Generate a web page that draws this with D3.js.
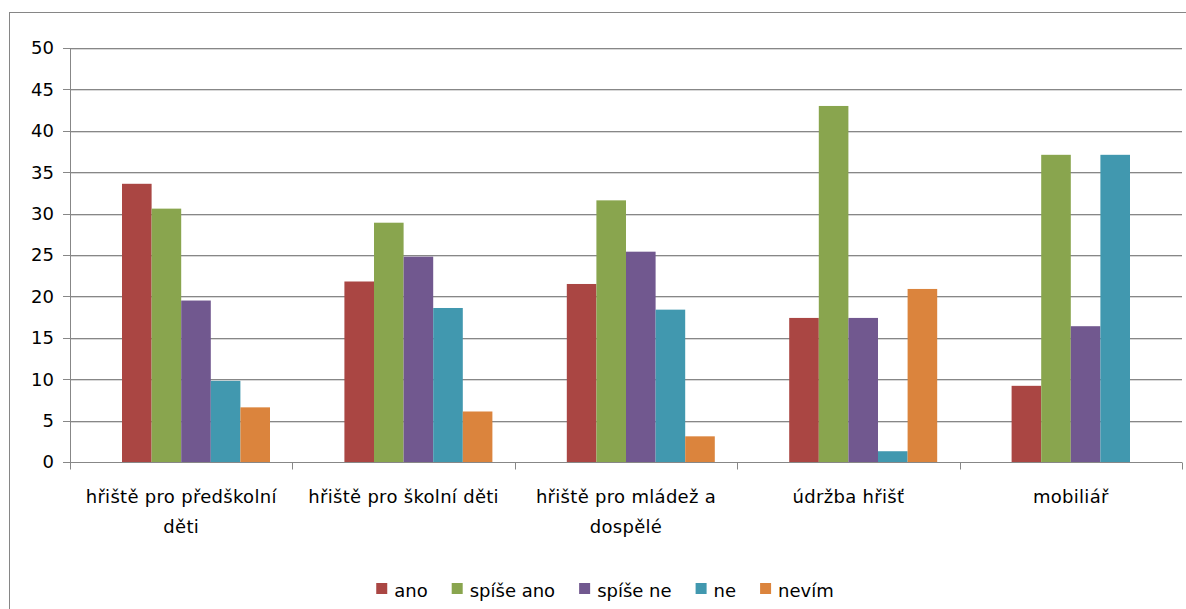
<!DOCTYPE html>
<html>
<head>
<meta charset="utf-8">
<script src="https://cdn.jsdelivr.net/npm/d3@7/dist/d3.min.js"></script>
<style>
  html, body { margin: 0; padding: 0; background: #fff; }
  svg text { font-family: "DejaVu Sans", sans-serif; font-size: 18px; fill: #000; }
  svg text.cat { letter-spacing: 0.3px; }
</style>
</head>
<body>
<div id="chart"></div>
<script>
var width = 1186;
var height = 609;

// data (percent)
var categories = ["hřiště pro předškolní děti", "hřiště pro školní děti", "hřiště pro mládež a dospělé", "údržba hřišť", "mobiliář"];
var seriesNames = ["ano", "spíše ano", "spíše ne", "ne", "nevím"];
var ano      = [33.6, 21.8, 21.5, 17.4, 9.2];
var spiseAno = [30.6, 28.9, 31.6, 43.0, 37.1];
var spiseNe  = [19.5, 24.8, 25.4, 17.4, 16.4];
var ne       = [9.8, 18.6, 18.4, 1.3, 37.1];
var nevim    = [6.6, 6.1, 3.1, 20.9, 0];
var yTicks   = [0, 5, 10, 15, 20, 25, 30, 35, 40, 45, 50];
var colors   = ["#AA4643", "#89A54E", "#71588F", "#4198AF", "#DB843D"];

var seriesValues = [ano, spiseAno, spiseNe, ne, nevim];

var plot = { left: 70, right: 1182, top: 48, bottom: 462 };

var svg = d3.select("#chart")
    .append("svg")
    .attr("width", width)
    .attr("height", height);

// outer frame (runs off the right and bottom edges)
svg.append("rect")
    .attr("x", 9.5).attr("y", 12.5)
    .attr("width", 1200).attr("height", 620)
    .attr("fill", "none")
    .attr("stroke", "#868686");

var y = d3.scaleLinear().domain([0, 50]).range([plot.bottom, plot.top]);

var x0 = d3.scaleBand()
    .domain(categories)
    .range([plot.left, plot.right])
    .padding(0);

// six slots per category, the first one stays empty (as in the original)
var x1 = d3.scaleBand()
    .domain(d3.range(6))
    .range([0, x0.bandwidth()])
    .paddingInner(0)
    .paddingOuter(0.757);

function crisp(v) { return Math.round(v) + 0.5; }

// gridlines
var grid = svg.append("g");
yTicks.filter(function(t) { return t > 0; }).forEach(function(t) {
  grid.append("line")
      .attr("x1", plot.left).attr("x2", plot.right)
      .attr("y1", crisp(y(t)) + 1).attr("y2", crisp(y(t)) + 1)
      .attr("stroke", "#d8d8d8");
  grid.append("line")
      .attr("x1", plot.left - 7).attr("x2", plot.right)
      .attr("y1", crisp(y(t))).attr("y2", crisp(y(t)))
      .attr("stroke", "#878787");
});

// bars
var rows = [];
categories.forEach(function(c, i) {
  seriesValues.forEach(function(vals, s) {
    rows.push({ cat: c, s: s, v: vals[i] });
  });
});

svg.append("g").selectAll("rect")
    .data(rows.filter(function(d) { return d.v > 0; }))
    .enter()
    .append("rect")
    .attr("x", function(d) { return x0(d.cat) + x1(d.s + 1); })
    .attr("width", x1.bandwidth())
    .attr("y", function(d) { return y(d.v); })
    .attr("height", function(d) { return y(0) - y(d.v); })
    .attr("fill", function(d) { return colors[d.s]; });

// axes lines
var axes = svg.append("g").attr("stroke", "#878787").attr("fill", "none");
axes.append("line")
    .attr("x1", crisp(plot.left)).attr("x2", crisp(plot.left))
    .attr("y1", plot.top).attr("y2", crisp(y(0)) + 7);
axes.append("line")
    .attr("x1", plot.left - 7).attr("x2", plot.right)
    .attr("y1", crisp(y(0))).attr("y2", crisp(y(0)));
categories.forEach(function(c) {
  var xx = crisp(x0(c) + x0.bandwidth());
  axes.append("line")
      .attr("x1", xx).attr("x2", xx)
      .attr("y1", crisp(y(0))).attr("y2", crisp(y(0)) + 7);
});

// y tick labels
svg.append("g").selectAll("text")
    .data(yTicks)
    .enter()
    .append("text")
    .attr("x", 54)
    .attr("y", function(d) { return y(d); })
    .attr("dy", "0.36em")
    .attr("text-anchor", "end")
    .text(function(d) { return d; });

// category labels, wrapped
function wrapWords(text, maxW) {
  var words = text.split(" ");
  var lines = [];
  var line = [];
  var probe = svg.append("text").attr("class", "cat").attr("visibility", "hidden");
  words.forEach(function(w) {
    var test = line.concat([w]).join(" ");
    probe.text(test);
    if (probe.node().getComputedTextLength() > maxW && line.length) {
      lines.push(line.join(" "));
      line = [w];
    } else {
      line.push(w);
    }
  });
  lines.push(line.join(" "));
  probe.remove();
  return lines;
}

var catLabels = svg.append("g");
categories.forEach(function(c) {
  var lines = wrapWords(c, 205);
  var t = catLabels.append("text")
      .attr("class", "cat")
      .attr("text-anchor", "middle")
      .attr("x", x0(c) + x0.bandwidth() / 2)
      .attr("y", 503);
  lines.forEach(function(l, i) {
    t.append("tspan")
        .attr("x", x0(c) + x0.bandwidth() / 2)
        .attr("y", 503 + i * 29.5)
        .text(l);
  });
});

// legend
var legend = svg.append("g");
var lx = 0;
seriesNames.forEach(function(n, i) {
  var item = legend.append("g").attr("transform", "translate(" + lx + ",0)");
  item.append("rect")
      .attr("x", 0).attr("y", 583)
      .attr("width", 11).attr("height", 11)
      .attr("fill", colors[i]);
  var t = item.append("text")
      .attr("x", 18).attr("y", 597)
      .text(n);
  lx += 18 + t.node().getComputedTextLength() + 24;
});
var legendW = lx - 24;
legend.attr("transform", "translate(" + (605 - legendW / 2) + ",0)");
</script>
</body>
</html>
